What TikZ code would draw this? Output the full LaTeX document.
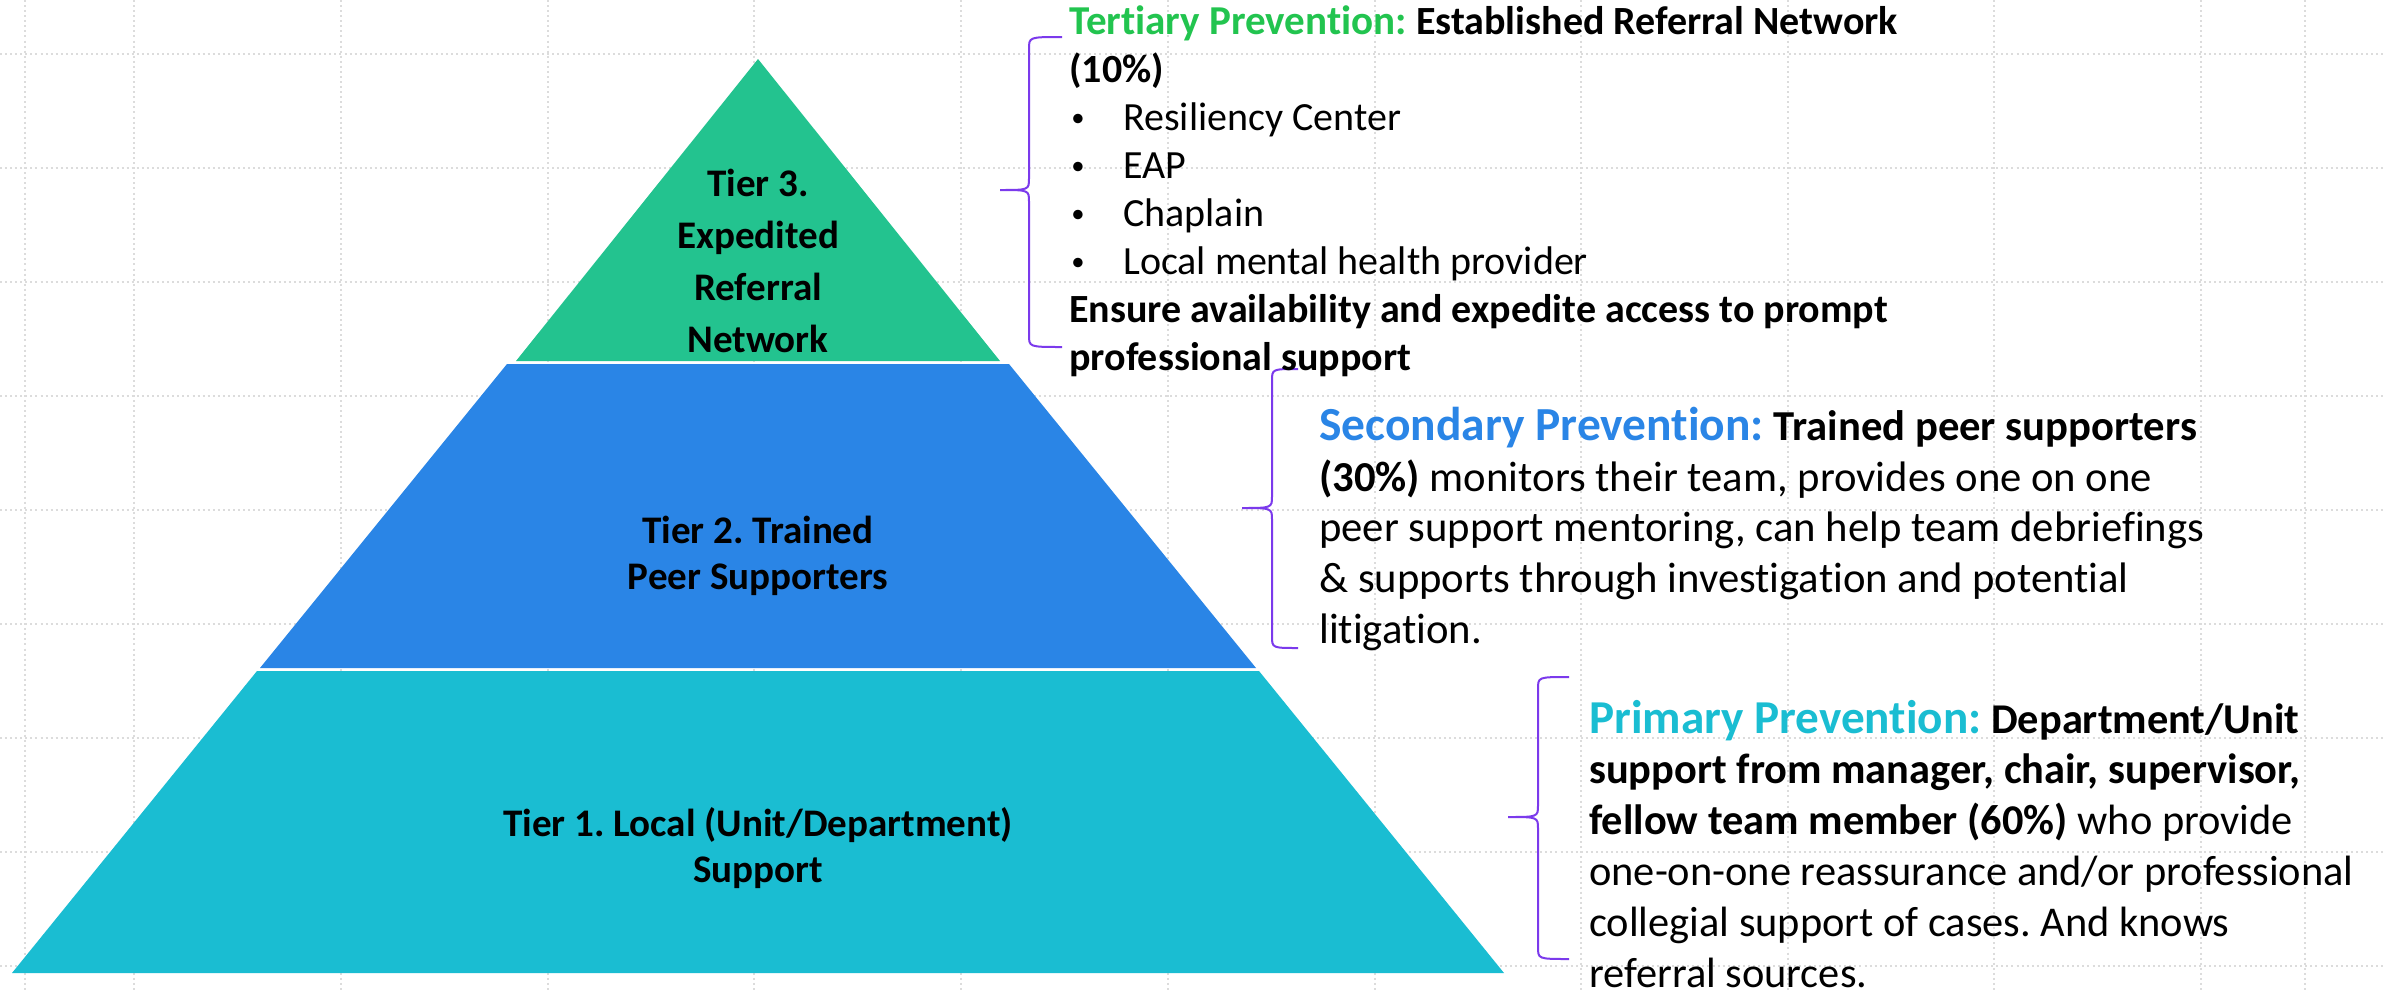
\documentclass[tikz,border=0pt]{standalone}
\usepackage{fontspec}
\setmainfont{Carlito}[Ligatures=NoCommon]
\usepackage{xcolor}
\definecolor{tiergreen}{HTML}{23C38F}
\definecolor{tierblue}{HTML}{2A85E6}
\definecolor{tiercyan}{HTML}{1ABDD2}
\definecolor{titlegreen}{HTML}{22C44F}
\definecolor{bracepurple}{HTML}{7B3AEC}
\definecolor{gridgray}{HTML}{DCDCDC}
\usepackage{tikz}
\frenchspacing

% curly bracket: arm x, spine x, tip x, top y, tip y, bottom y
\newcommand\prevbrace[6]{%
  \draw[curly] (#1,#4) .. controls (#2,#4) .. (#2,#4+12) -- (#2,#5-12)
    .. controls (#2,#5) .. (#3,#5) .. controls (#2,#5) .. (#2,#5+12)
    -- (#2,#6-12) .. controls (#2,#6) .. (#1,#6);}
% small bullet with its hanging indent
\newcommand\dotitem{\makebox[40.5pt][l]{\hspace{1.5pt}\raisebox{2.5pt}{\fontsize{20}{20}\selectfont\textbullet}}}

\begin{document}
\begin{tikzpicture}[x=0.75pt, y=-0.75pt,
  gridline/.style={gridgray, line width=1.5pt, dash pattern=on 1.5pt off 2.3pt},
  tier/.style={inner sep=0, align=center, anchor=base},
  note/.style={inner sep=0, align=left, anchor=base west},
  curly/.style={bracepurple, line width=1.5pt}]

  \useasboundingbox (0,0) rectangle (2384,993);
  \fill[white] (0,0) rectangle (2384,993);

  % dotted background grid
  \foreach \gx in {25,134,341,548,754,961,1168,1375,1581,1788,1994,2201,2305}
    \draw[gridline] (\gx,0) -- (\gx,993);
  \foreach \gy in {54,168,...,966}
    \draw[gridline] (0,\gy) -- (2384,\gy);

  % the three tiers
  \fill[tiergreen] (758,59) -- (1000,361) -- (516,361) -- cycle;
  \fill[tierblue] (507,364) -- (1009,364) -- (1256,668) -- (260,668) -- cycle;
  \fill[tiercyan] (257,671) -- (1259,671) -- (1504,973) -- (12,973) -- cycle;

  % labels sit on the baseline of their last line
  \node[tier, font=\fontsize{29.3}{39}\selectfont\bfseries] (tier3) at (758,352)
    {Tier 3.\\Expedited\\Referral\\Network};
  \node[tier, font=\fontsize{29.3}{34.5}\selectfont\bfseries] (tier2) at (758,589)
    {Tier 2. Trained\\Peer Supporters};
  \node[tier, font=\fontsize{29.3}{33.8}\selectfont\bfseries] (tier1) at (758,882)
    {Tier 1. Local (Unit/Department)\\Support};

  % brackets
  \prevbrace{1062}{1029}{1000}{37}{190}{347}
  \prevbrace{1298}{1272}{1242}{369}{508}{648}
  \prevbrace{1569}{1538}{1508}{677}{817}{959}

  % descriptions
  \node[note, font=\fontsize{30}{36}\selectfont] (tertiary) at (1069,370)
    {{\color{titlegreen}\bfseries\fontsize{30.8}{36}\selectfont Tertiary Prevention:} \textbf{Established Referral Network}\\
     \textbf{(10\%)}\\
     \dotitem Resiliency Center\\
     \dotitem EAP\\
     \dotitem Chaplain\\
     \dotitem Local mental health provider\\
     \textbf{Ensure availability and expedite access to prompt}\\
     \textbf{professional support}};

  \node[note, font=\fontsize{32}{38}\selectfont] (secondary) at (1319,643)
    {{\color{tierblue}\bfseries\fontsize{35.6}{38}\selectfont Secondary Prevention:} \textbf{Trained peer supporters}\\
     \textbf{(30\%)} monitors their team, provides one on one\\
     peer support mentoring, can help team debriefings\\
     \& supports through investigation and potential\\
     litigation.};

  \node[note, font=\fontsize{31.8}{38.1}\selectfont] (primary) at (1589,987)
    {{\color{tiercyan}\bfseries\fontsize{35.4}{38.1}\selectfont Primary Prevention:} \textbf{Department/Unit}\\
     \textbf{support from manager, chair, supervisor,}\\
     \textbf{fellow team member (60\%)} who provide\\
     one-on-one reassurance and/or professional\\
     collegial support of cases. And knows\\
     referral sources.};

\end{tikzpicture}
\end{document}
